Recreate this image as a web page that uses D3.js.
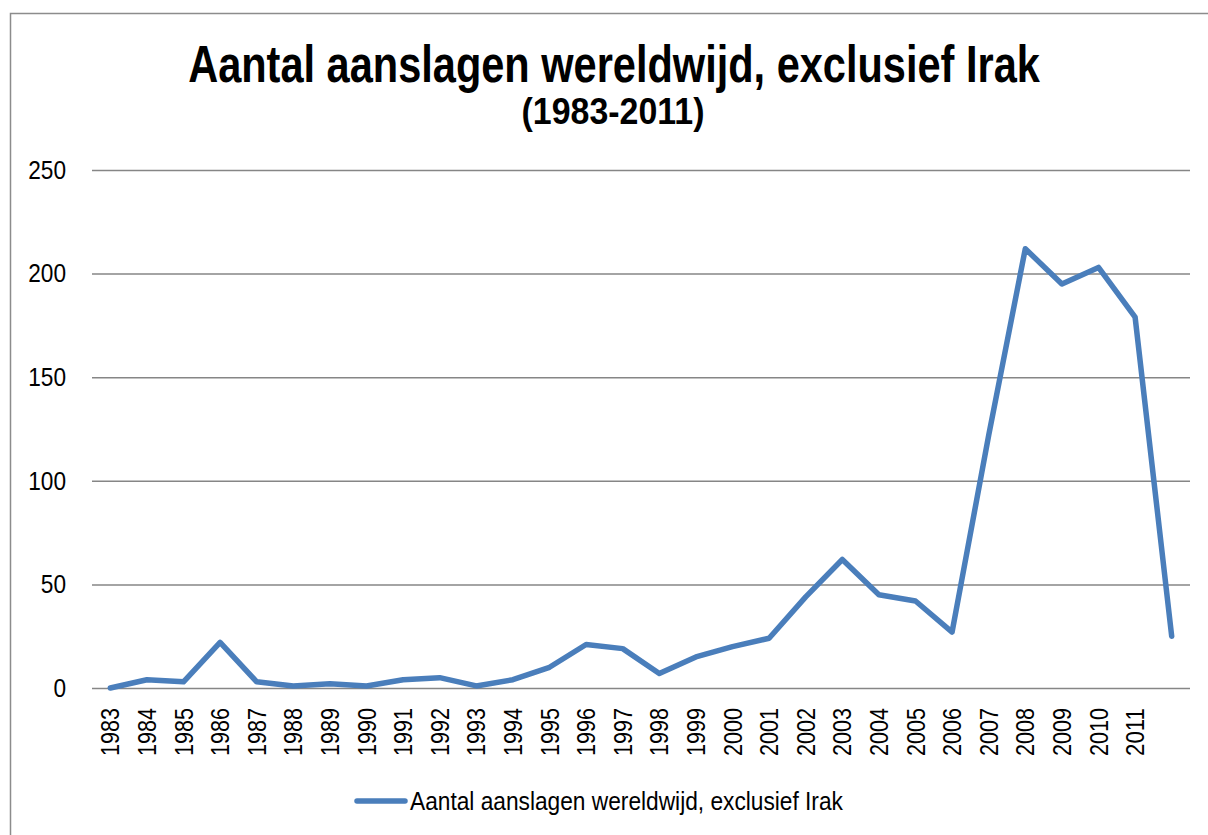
<!DOCTYPE html>
<html>
<head>
<meta charset="utf-8">
<script src="https://cdn.jsdelivr.net/npm/d3@7/dist/d3.min.js"></script>
<style>
  html, body { margin: 0; padding: 0; background: #fff; }
  svg { display: block; }
  text { font-family: "Liberation Sans Narrow", "Arial Narrow", "Liberation Sans", Arial, sans-serif; }
</style>
</head>
<body>
<svg id="chart" width="1208" height="835"></svg>
<script>
// ---- data ----
const categories = ["1983","1984","1985","1986","1987","1988","1989","1990","1991","1992",
  "1993","1994","1995","1996","1997","1998","1999","2000","2001","2002",
  "2003","2004","2005","2006","2007","2008","2009","2010","2011",""];
const values = [0, 4, 3, 22, 3, 1, 2, 1, 4, 5,
  1, 4, 10, 21, 19, 7, 15, 20, 24, 44,
  62, 45, 42, 27, 122, 212, 195, 203, 179, 25];
const yTicks = [0, 50, 100, 150, 200, 250];
const titleText = "Aantal aanslagen wereldwijd, exclusief Irak";
const subtitleText = "(1983-2011)";
const seriesName = "Aantal aanslagen wereldwijd, exclusief Irak";

// ---- layout ----
const W = 1208, H = 835;
const plot = { left: 92, right: 1190, top: 170, bottom: 688 };
const lineColor = "#4A7EBB";
const gridColor = "#868686";
const digitW = 12.6; // narrow-font digit advance

const svg = d3.select("#chart");

// condense a text horizontally to a target width (narrow-font look)
function condense(g, targetW) {
  const t = g.select("text");
  const w = t.node().getComputedTextLength();
  const s = Math.min(1, targetW / w);
  t.attr("transform", `scale(${s},1)`);
}

// outer frame (left and top edges visible)
svg.append("path")
  .attr("d", `M10.5,${H} L10.5,13.5 L${W},13.5`)
  .attr("fill", "none").attr("stroke", "#8c8c8c").attr("stroke-width", 1.5);

// title
const gt = svg.append("g").attr("transform", "translate(614,82)");
gt.append("text")
  .attr("text-anchor", "middle")
  .attr("font-size", 52).attr("font-weight", "bold")
  .text(titleText);
condense(gt, 852);

const gs = svg.append("g").attr("transform", "translate(613,124)");
gs.append("text")
  .attr("text-anchor", "middle")
  .attr("font-size", 37).attr("font-weight", "bold")
  .text(subtitleText);
condense(gs, 183);

// scales
const x = d3.scaleBand().domain(d3.range(categories.length))
  .range([plot.left, plot.right]).padding(0);
const y = d3.scaleLinear().domain([0, 250]).range([plot.bottom, plot.top]);

// y gridlines + labels
const yAxis = d3.axisLeft(y).tickValues(yTicks).tickSize(-(plot.right - plot.left)).tickPadding(26)
  .tickFormat(d3.format("d"));
const gy = svg.append("g").attr("transform", `translate(${plot.left},0)`).call(yAxis);
gy.select(".domain").remove();
gy.selectAll(".tick line").attr("stroke", gridColor).attr("stroke-width", 1.5);
gy.selectAll(".tick text")
  .attr("font-size", 26).attr("fill", "#000")
  .attr("textLength", d => String(d).length * digitW)
  .attr("lengthAdjust", "spacingAndGlyphs");

// x axis labels (rotated)
const xAxis = d3.axisBottom(x).tickFormat(i => categories[i]).tickSize(0).tickPadding(0);
const gx = svg.append("g").attr("transform", `translate(0,${plot.bottom})`).call(xAxis);
gx.select(".domain").remove();
gx.selectAll(".tick text")
  .attr("font-size", 26).attr("fill", "#000")
  .attr("text-anchor", "end")
  .attr("dy", null).attr("y", 0).attr("x", 0)
  .attr("textLength", i => Math.max(1, categories[i].length * 12))
  .attr("lengthAdjust", "spacingAndGlyphs")
  .attr("transform", "translate(9,20) rotate(-90)");

// line
const line = d3.line()
  .x((d, i) => x(i) + x.bandwidth() / 2)
  .y(d => y(d));
svg.append("path").datum(values)
  .attr("d", line)
  .attr("fill", "none")
  .attr("stroke", lineColor)
  .attr("stroke-width", 5.5)
  .attr("stroke-linejoin", "round")
  .attr("stroke-linecap", "round");

// legend
const lg = svg.append("g").attr("transform", "translate(357,801)");
lg.append("line").attr("x1", 0).attr("x2", 48).attr("y1", 0).attr("y2", 0)
  .attr("stroke", lineColor).attr("stroke-width", 5.5).attr("stroke-linecap", "round");
const lgt = lg.append("g").attr("transform", "translate(53,9)");
lgt.append("text")
  .attr("font-size", 26).attr("fill", "#000")
  .text(seriesName);
condense(lgt, 433);
</script>
</body>
</html>
